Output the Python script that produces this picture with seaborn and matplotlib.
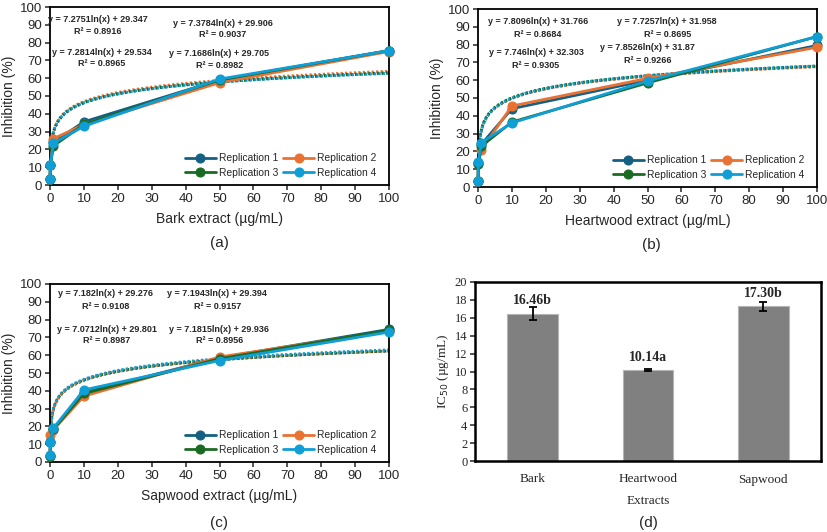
import numpy as np
import pandas as pd
import matplotlib
matplotlib.use("Agg")
import matplotlib.pyplot as plt
import seaborn as sns

# ---------------- data ----------------
conc = [0.01, 0.1, 1, 10, 50, 100]
reps = ["Replication 1", "Replication 2", "Replication 3", "Replication 4"]

bark_r1 = [3.5, 11, 24, 35.5, 59, 75.5]
bark_r2 = [3.5, 11, 26, 34, 57.5, 75]
bark_r3 = [3.5, 11, 22, 34, 59, 75.5]
bark_r4 = [3.5, 11, 23.5, 33, 59.5, 75.5]
bark_slope = [7.2751, 7.3784, 7.2814, 7.1686]
bark_icpt = [29.347, 29.906, 29.534, 29.705]
bark_rsq = ["0.8916", "0.9037", "0.8965", "0.8982"]

heart_r1 = [3.5, 13.5, 24, 44, 60, 79.5]
heart_r2 = [3.5, 13.5, 21, 45.5, 61, 78.5]
heart_r3 = [3.5, 13, 23, 36.5, 58.5, 84.5]
heart_r4 = [3.5, 14, 25, 36, 59.5, 84.5]
heart_slope = [7.8096, 7.7257, 7.746, 7.8526]
heart_icpt = [31.766, 31.958, 32.303, 31.87]
heart_rsq = ["0.8684", "0.8695", "0.9305", "0.9266"]

sap_r1 = [3.5, 11, 18.5, 39, 58.5, 74.5]
sap_r2 = [3.5, 15, 18, 37, 59, 73.5]
sap_r3 = [3.5, 11, 18.5, 38.5, 58, 74]
sap_r4 = [4, 11, 19, 40.5, 57, 73]
sap_slope = [7.182, 7.1943, 7.0712, 7.1815]
sap_icpt = [29.276, 29.394, 29.801, 29.936]
sap_rsq = ["0.9108", "0.9157", "0.8987", "0.8956"]

extracts = ["Bark", "Heartwood", "Sapwood"]
ic50 = [16.46, 10.14, 17.30]
ic50_err = [0.7, 0.1, 0.5]
ic50_labels = ["16.46b", "10.14a", "17.30b"]

# ---------------- style ----------------
sns.set_style("ticks")
plt.rcParams["font.family"] = ["Liberation Sans", "DejaVu Sans"]
plt.rcParams["axes.linewidth"] = 1.3

colors = ["#156082", "#E97132", "#196B24", "#0F9ED5"]

W, H = 827, 532
fig = plt.figure(figsize=(W / 100, H / 100), dpi=100)


def px_axes(left, top, right, bottom):
    return fig.add_axes([left / W, (H - bottom) / H, (right - left) / W, (bottom - top) / H])


def line_panel(ax, series, slopes, icpts, rsqs, xlabel, eq_pos, panel, panel_xy):
    rows = []
    for rep, vals in zip(reps, series):
        for c, v in zip(conc, vals):
            rows.append({"conc": c, "inh": v, "rep": rep})
    df = pd.DataFrame(rows)
    # trendlines (logarithmic fits printed on the chart)
    xf = np.geomspace(conc[0], conc[-1], 400)
    for col, a, b in zip(colors, slopes, icpts):
        ax.plot(xf, a * np.log(xf) + b, color=col, lw=2.0, ls=(0, (0.8, 0.8)), zorder=2)
    sns.lineplot(data=df, x="conc", y="inh", hue="rep", palette=colors, marker="o",
                 markersize=6.5, linewidth=2.0, ax=ax, zorder=3, legend=True)
    for ln in ax.lines:
        if ln.get_marker() == "o":
            ln.set_markeredgecolor(ln.get_color())
            ln.set_clip_on(False)
    ax.set_xlim(0, 100)
    ax.set_ylim(0, 100)
    ax.set_xticks(range(0, 101, 10))
    ax.set_yticks(range(0, 101, 10))
    ax.tick_params(labelsize=9.5, length=3.5, width=1.1, pad=2)
    ax.set_xlabel(xlabel, fontsize=10, labelpad=5)
    ax.set_ylabel("Inhibition (%)", fontsize=10, labelpad=3)
    for s in ax.spines.values():
        s.set_visible(True)
        s.set_color("black")
    h, l = ax.get_legend_handles_labels()
    order = [0, 2, 1, 3]
    ax.legend([h[i] for i in order], [l[i] for i in order], ncol=2, loc="lower right",
              bbox_to_anchor=(0.985, 0.0), frameon=False,
              fontsize=7.4, handlelength=3.0, columnspacing=0.5, handletextpad=0.3,
              labelspacing=0.45, borderaxespad=0.3)
    for (x, y1, y2), a, b, r in zip(eq_pos, slopes, icpts, rsqs):
        ax.text(x, y1, f"y = {a}ln(x) + {b}", transform=ax.transAxes, ha="center", va="center",
                fontsize=6.5, fontweight="bold")
        ax.text(x, y2, f"R² = {r}", transform=ax.transAxes, ha="center", va="center",
                fontsize=6.5, fontweight="bold")
    fig.text(panel_xy[0] / W, 1 - panel_xy[1] / H, panel, ha="center", va="center", fontsize=11)


ax_a = px_axes(50, 7, 389, 185)
line_panel(ax_a, [bark_r1, bark_r2, bark_r3, bark_r4], bark_slope, bark_icpt, bark_rsq,
           "Bark extract (µg/mL)",
           [(0.142, 0.927, 0.86), (0.510, 0.910, 0.843), (0.153, 0.742, 0.680), (0.499, 0.736, 0.669)],
           "(a)", (219, 243))

ax_b = px_axes(478, 9, 817, 187)
line_panel(ax_b, [heart_r1, heart_r2, heart_r3, heart_r4], heart_slope, heart_icpt, heart_rsq,
           "Heartwood extract (µg/mL)",
           [(0.177, 0.927, 0.854), (0.558, 0.927, 0.854), (0.171, 0.753, 0.680), (0.501, 0.781, 0.708)],
           "(b)", (651, 245))

ax_c = px_axes(50, 284, 389, 462)
line_panel(ax_c, [sap_r1, sap_r2, sap_r3, sap_r4], sap_slope, sap_icpt, sap_rsq,
           "Sapwood extract (µg/mL)",
           [(0.165, 0.944, 0.876), (0.493, 0.944, 0.876), (0.168, 0.747, 0.680), (0.499, 0.747, 0.680)],
           "(c)", (219, 523))

# ---------------- panel d ----------------
ax_d = px_axes(475, 282, 821, 461)
serif = ["Liberation Serif", "DejaVu Serif"]
dfd = pd.DataFrame({"extract": extracts, "ic50": ic50})
sns.barplot(data=dfd, x="extract", y="ic50", color="#808080", saturation=1, width=0.44,
            edgecolor="#b5b5b5", linewidth=0.8, ax=ax_d, errorbar=None)
xpos = np.arange(len(extracts))
ax_d.errorbar(xpos, ic50, yerr=ic50_err, fmt="none", ecolor="black", elinewidth=1.3,
              capsize=3, capthick=1.3, zorder=5)
for x, v, t in zip(xpos, ic50, ic50_labels):
    ax_d.text(x, v + 1.45, t, ha="center", va="center", fontsize=10, fontweight="bold", family=serif)
ax_d.set_xlim(-0.5, 2.5)
ax_d.set_ylim(0, 20)
ax_d.set_yticks(range(0, 21, 2))
for s in ax_d.spines.values():
    s.set_visible(True)
    s.set_color("black")
    s.set_linewidth(1.8)
ax_d.tick_params(axis="y", labelsize=9, length=3.5, width=1.1, pad=2)
ax_d.tick_params(axis="x", labelsize=9.5, length=0, pad=9)
for lab in ax_d.get_xticklabels() + ax_d.get_yticklabels():
    lab.set_family(serif)
ax_d.set_xlabel("Extracts", fontsize=9.5, family=serif, labelpad=7)
ax_d.set_ylabel("IC$_{50}$ (µg/mL)", fontsize=9.5, family=serif, labelpad=3)
fig.text(648 / W, 1 - 523 / H, "(d)", ha="center", va="center", fontsize=11)

fig.savefig("out.png", dpi=100)
